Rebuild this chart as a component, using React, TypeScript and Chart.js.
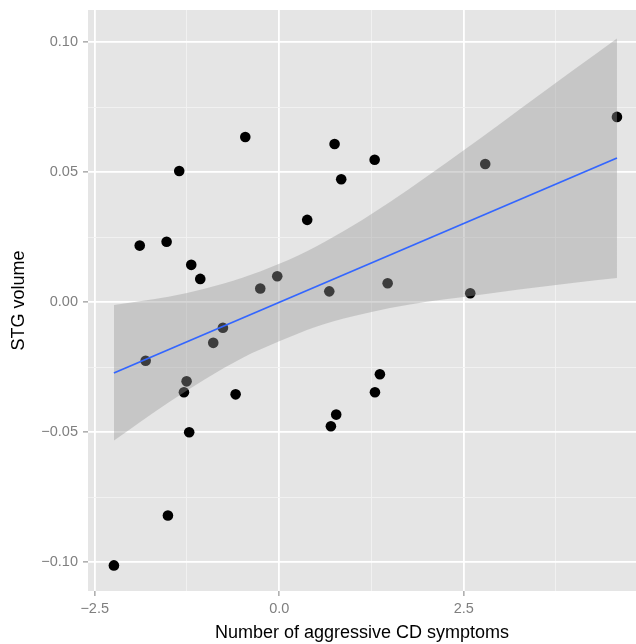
import React, { useEffect, useRef } from "react";
import { Chart, registerables } from "chart.js";

Chart.register(...registerables);

// Scatter points (x: aggressive CD symptoms, y: STG volume)
const xValues = [-2.24, -1.89, -1.81, -1.526, -1.508, -1.355, -1.192, -1.07, -1.255, -1.291, -1.22, -0.894, -0.763, -0.591, -0.46, -0.257, -0.027, 0.379, 0.678, 0.75, 0.84, 1.293, 1.469, 1.364, 1.297, 0.772, 0.7, 2.588, 2.791, 4.576];
const yValues = [-0.1012, 0.0218, -0.0225, 0.0233, -0.082, 0.0505, 0.0144, 0.009, -0.0304, -0.0346, -0.05, -0.0156, -0.0098, -0.0354, 0.0636, 0.0053, 0.01, 0.0317, 0.0042, 0.0609, 0.0473, 0.0548, 0.0073, -0.0277, -0.0346, -0.0432, -0.0477, 0.0035, 0.0532, 0.0713];

// Regression line
const lineX = [-2.24, 4.576];
const lineY = [-0.0272, 0.0555];

// Confidence band
const ribbonX = [-2.24, -1.5, -1.0, -0.5, 0, 0.5, 1.0, 1.5, 2.0, 2.5, 3.0, 3.5, 4.0, 4.576];
const ribbonUpper = [-0.001, 0.0021, 0.0053, 0.0094, 0.0148, 0.0215, 0.0295, 0.0386, 0.0484, 0.0585, 0.0688, 0.0792, 0.0896, 0.1015];
const ribbonLower = [-0.0532, -0.0385, -0.0295, -0.0214, -0.015, -0.0094, -0.0054, -0.0022, 0.0002, 0.002, 0.004, 0.0058, 0.0075, 0.0093];

// Ticks
const xMajorTicks = [-2.5, 0, 2.5];
const xTickLabels = ["\u22122.5", "0.0", "2.5"];
const xMinorTicks = [-1.25, 1.25, 3.75];
const yMajorTicks = [-0.1, -0.05, 0, 0.05, 0.1];
const yTickLabels = ["\u22120.10", "\u22120.05", "0.00", "0.05", "0.10"];
const yMinorTicks = [-0.075, -0.025, 0.025, 0.075];

const X_MIN = -2.591;
const X_MAX = 4.834;
const Y_MIN = -0.11104;
const Y_MAX = 0.11242;

const FONT = "'Liberation Sans', Arial, Helvetica, sans-serif";

const near = (a: number, b: number) => Math.abs(a - b) < 1e-9;
const majorIndex = (arr: number[], v: number) => arr.findIndex((m) => near(m, v));

const panelBg = {
  id: "panelBg",
  beforeDraw(chart: any) {
    const { ctx, chartArea } = chart;
    if (!chartArea) return;
    ctx.save();
    ctx.fillStyle = "#E5E5E5";
    ctx.fillRect(chartArea.left, chartArea.top, chartArea.right - chartArea.left, chartArea.bottom - chartArea.top);
    ctx.restore();
  },
};

const zeroPad = (scale: any) => {
  scale.paddingTop = 0;
  scale.paddingBottom = 0;
  scale.paddingLeft = 0;
  scale.paddingRight = 0;
};

export default function App() {
  const ref = useRef<HTMLCanvasElement | null>(null);

  useEffect(() => {
    document.body.style.margin = "0";
    const canvas = ref.current;
    if (!canvas) return;

    const points = xValues.map((x, i) => ({ x, y: yValues[i] }));
    const line = lineX.map((x, i) => ({ x, y: lineY[i] }));
    const upper = ribbonX.map((x, i) => ({ x, y: ribbonUpper[i] }));
    const lower = ribbonX.map((x, i) => ({ x, y: ribbonLower[i] }));

    const xAll = [...xMajorTicks, ...xMinorTicks].sort((a, b) => a - b);
    const yAll = [...yMajorTicks, ...yMinorTicks].sort((a, b) => a - b);

    const gridColor = (arr: number[]) => (ctx: any) =>
      ctx.tick && majorIndex(arr, ctx.tick.value) >= 0 ? "#FFFFFF" : "#F2F2F2";
    const gridWidth = (arr: number[]) => (ctx: any) =>
      ctx.tick && majorIndex(arr, ctx.tick.value) >= 0 ? 1.8 : 0.9;
    const tickColor = (arr: number[]) => (ctx: any) =>
      ctx.tick && majorIndex(arr, ctx.tick.value) >= 0 ? "#7F7F7F" : "rgba(0,0,0,0)";

    const chart = new Chart(canvas, {
      type: "line",
      data: {
        datasets: [
          {
            label: "fit",
            data: line,
            borderColor: "#3366FF",
            borderWidth: 1.8,
            pointRadius: 0,
            fill: false,
            order: 1,
          } as any,
          {
            label: "upper",
            data: upper,
            borderWidth: 0,
            borderColor: "rgba(0,0,0,0)",
            backgroundColor: "rgba(153,153,153,0.4)",
            pointRadius: 0,
            cubicInterpolationMode: "monotone",
            fill: "+1",
            order: 2,
          } as any,
          {
            label: "lower",
            data: lower,
            borderWidth: 0,
            borderColor: "rgba(0,0,0,0)",
            pointRadius: 0,
            cubicInterpolationMode: "monotone",
            fill: false,
            order: 2,
          } as any,
          {
            label: "points",
            data: points,
            showLine: false,
            pointRadius: 5.3,
            pointBackgroundColor: "#000000",
            pointBorderWidth: 0,
            pointBorderColor: "#000000",
            order: 3,
          } as any,
        ],
      },
      options: {
        animation: false,
        responsive: false,
        maintainAspectRatio: false,
        layout: { autoPadding: false, padding: { top: 10, right: 0, bottom: 0, left: 0 } },
        plugins: {
          legend: { display: false },
          tooltip: { enabled: false },
          title: { display: false },
        },
        scales: {
          x: {
            type: "linear",
            min: X_MIN,
            max: X_MAX,
            afterBuildTicks: (scale: any) => {
              scale.ticks = xAll.map((v) => ({ value: v }));
            },
            afterFit: (scale: any) => {
              scale.height = 53;
              zeroPad(scale);
            },
            border: { display: false },
            grid: {
              color: gridColor(xMajorTicks),
              lineWidth: gridWidth(xMajorTicks),
              tickColor: tickColor(xMajorTicks),
              tickLength: 5,
              tickWidth: 1,
              drawTicks: true,
            },
            ticks: {
              autoSkip: false,
              maxRotation: 0,
              minRotation: 0,
              padding: 4,
              color: "#7F7F7F",
              font: { family: FONT, size: 14.5 },
              callback: (value: any) => {
                const i = majorIndex(xMajorTicks, Number(value));
                return i >= 0 ? xTickLabels[i] : "";
              },
            },
            title: {
              display: true,
              text: "Number of aggressive CD symptoms",
              color: "#000000",
              font: { family: FONT, size: 18 },
              padding: { top: 0, bottom: 0 },
            },
          },
          y: {
            type: "linear",
            min: Y_MIN,
            max: Y_MAX,
            afterBuildTicks: (scale: any) => {
              scale.ticks = yAll.map((v) => ({ value: v }));
            },
            afterFit: (scale: any) => {
              scale.width = 88;
              zeroPad(scale);
            },
            border: { display: false },
            grid: {
              color: gridColor(yMajorTicks),
              lineWidth: gridWidth(yMajorTicks),
              tickColor: tickColor(yMajorTicks),
              tickLength: 5,
              tickWidth: 1,
              drawTicks: true,
            },
            ticks: {
              autoSkip: false,
              padding: 5,
              color: "#7F7F7F",
              font: { family: FONT, size: 14.5 },
              callback: (value: any) => {
                const i = majorIndex(yMajorTicks, Number(value));
                return i >= 0 ? yTickLabels[i] : "";
              },
            },
            title: {
              display: true,
              text: "STG volume",
              color: "#000000",
              font: { family: FONT, size: 18 },
              padding: { top: 8, bottom: 0 },
            },
          },
        },
      } as any,
      plugins: [panelBg],
    });

    return () => chart.destroy();
  }, []);

  return (
    <div style={{ width: 636, height: 644 }}>
      <canvas ref={ref} width={636} height={644} style={{ display: "block" }} />
    </div>
  );
}
